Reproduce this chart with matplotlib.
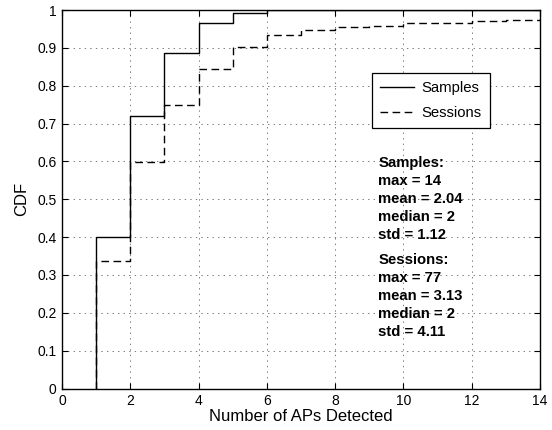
import numpy as np
import matplotlib
matplotlib.use("Agg")
import matplotlib.pyplot as plt

plt.rcParams['font.family'] = ['Liberation Sans', 'DejaVu Sans']
plt.rcParams['lines.scale_dashes'] = False

# Data
samples_x = [1, 2, 3, 4, 5, 6, 14]
samples_cdf = [0.400, 0.719, 0.886, 0.966, 0.992, 1.0, 1.0]
sessions_x = [1, 2, 3, 4, 5, 6, 7, 8, 9, 10, 11, 12, 13, 14]
sessions_cdf = [0.338, 0.598, 0.750, 0.844, 0.901, 0.935, 0.946, 0.954,
                0.959, 0.965, 0.966, 0.970, 0.974, 0.976]
series_labels = ["Samples", "Sessions"]
stats_samples = ["Samples:", "max = 14", "mean = 2.04", "median = 2", "std = 1.12"]
stats_sessions = ["Sessions:", "max = 77", "mean = 3.13", "median = 2", "std = 4.11"]
xticks = [0, 2, 4, 6, 8, 10, 12, 14]
yticks = [0, 0.1, 0.2, 0.3, 0.4, 0.5, 0.6, 0.7, 0.8, 0.9, 1]
ytick_labels = ["0", "0.1", "0.2", "0.3", "0.4", "0.5", "0.6", "0.7", "0.8", "0.9", "1"]

fig = plt.figure(figsize=(5.52, 4.30), dpi=100)
ax = fig.add_axes([0.1123, 0.0965, 0.8659, 0.8802])

ax.step(np.r_[samples_x[0], samples_x], np.r_[0, samples_cdf], where='post',
        color='black', lw=1.0, label=series_labels[0])
ax.step(np.r_[sessions_x[0], sessions_x], np.r_[0, sessions_cdf], where='post',
        color='black', lw=1.0, dashes=(5.5, 3.2), label=series_labels[1])

ax.set_xlim(0, 14)
ax.set_ylim(0, 1)
ax.set_xticks(xticks)
ax.set_xticklabels([str(t) for t in xticks])
ax.set_yticks(yticks)
ax.set_yticklabels(ytick_labels)
ax.tick_params(direction='in', top=True, right=True, length=4, width=0.8,
               labelsize=10, pad=4, colors='black')
for s in ax.spines.values():
    s.set_linewidth(1.0)
    s.set_color('black')
ax.grid(True, color='0.4', linestyle=(0, (1, 3)), lw=0.6)
ax.set_axisbelow(True)

ax.set_xlabel("Number of APs Detected", fontsize=12, labelpad=1)
ax.set_ylabel("CDF", fontsize=12, labelpad=6)

leg = ax.legend(loc='upper left', bbox_to_anchor=(0.648, 0.834), borderaxespad=0,
                fontsize=10.7, fancybox=False, framealpha=1, edgecolor='black',
                handlelength=2.3, handletextpad=0.5, borderpad=0.55, labelspacing=0.75)
leg.get_frame().set_linewidth(0.9)

step = 0.0476
for i, t in enumerate(stats_samples):
    ax.text(9.26, 0.595 - i * step, t, fontsize=10.7, fontweight='bold',
            ha='left', va='center')
for i, t in enumerate(stats_sessions):
    ax.text(9.26, 0.3395 - i * step, t, fontsize=10.7, fontweight='bold',
            ha='left', va='center')

fig.savefig("out.png", dpi=100)
